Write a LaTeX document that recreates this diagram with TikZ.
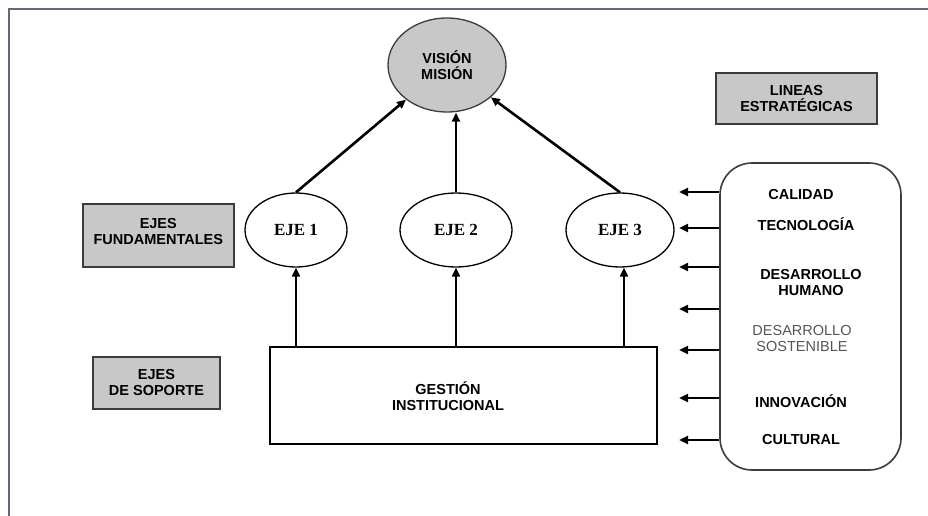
\documentclass[tikz,border=0pt]{standalone}
\usepackage{fontspec}
\setmainfont{Liberation Sans}
\newfontfamily\timesf{Liberation Serif}
\usetikzlibrary{shapes.geometric,arrows.meta}
\definecolor{boxgray}{RGB}{200,200,200}
\definecolor{framecol}{RGB}{95,105,120}
\definecolor{edgegray}{RGB}{60,60,60}
\definecolor{softtext}{RGB}{85,85,85}
\tikzset{
  lbl/.style={font=\fontsize{14.5}{16}\selectfont\bfseries, align=center, text=black},
  graybox/.style={draw=edgegray, line width=1.6pt, fill=boxgray, inner sep=0pt},
  eje/.style={ellipse, draw=black, line width=1.3pt, fill=white, minimum width=102pt, minimum height=74pt, inner sep=0pt, font=\timesf\fontsize{17}{19}\selectfont\bfseries},
  arr/.style={line width=2.6pt, -{Triangle[length=9pt,width=8pt]}},
}
\begin{document}
\begin{tikzpicture}[x=1pt,y=-1pt]
\useasboundingbox (0,0) rectangle (928,516);
\fill[white] (0,0) rectangle (928,516);
\draw[framecol, line width=1.8pt] (9,516) -- (9,9) -- (928,9);

% top ellipse
\node[ellipse, draw=edgegray, line width=1.3pt, fill=boxgray, minimum width=118pt, minimum height=94pt, inner sep=0pt, lbl] (vm) at (447,65) {VISIÓN\\MISIÓN};

% axes
\node[eje] (e1) at (296,230) {EJE 1};
\node[eje, minimum width=112pt] (e2) at (456,230) {EJE 2};
\node[eje, minimum width=108pt] (e3) at (620,230) {EJE 3};

% label boxes
\node[graybox, minimum width=151pt, minimum height=63pt, anchor=north west] (ef) at (82,203) {};
\node[lbl, anchor=north] (eft) at ([yshift=-12pt]ef.north) {EJES\\FUNDAMENTALES};
\node[graybox, minimum width=127pt, minimum height=52pt, lbl] (es) at (156.5,383) {EJES\\DE SOPORTE};
\node[graybox, minimum width=161pt, minimum height=51pt, lbl] (le) at (796.5,98.5) {LINEAS\\ESTRATÉGICAS};

% gestion box
\node[draw=black, line width=2.2pt, minimum width=387pt, minimum height=97pt, inner sep=0pt] (gi) at (463.5,395.5) {};
\node[lbl] (gt) at (448,396) {GESTIÓN\\INSTITUCIONAL};

% rounded box
\node[draw=edgegray, line width=1.6pt, rounded corners=32pt, minimum width=181pt, minimum height=307pt, inner sep=0pt] (rb) at (810.5,316.5) {};
\node[lbl] (t1) at (801,195) {CALIDAD};
\node[lbl] (t2) at (806,224) {TECNOLOGÍA};
\node[lbl] (t3) at (811,283) {DESARROLLO\\HUMANO};
\node[lbl, font=\fontsize{14.5}{16}\selectfont, text=softtext] (t4) at (802,339) {DESARROLLO\\SOSTENIBLE};
\node[lbl] (t5) at (801,401) {INNOVACIÓN};
\node[lbl] (t6) at (801,440) {CULTURAL};

% arrows to vision
\draw[arr] (e1.north) -- (vm);
\draw[arr] (e2.north) -- (e2.north |- vm.south);
\draw[arr] (e3.north) -- (vm);

% arrows from gestion
\draw[arr] (e1.south |- gi.north) -- (e1.south);
\draw[arr] (e2.south |- gi.north) -- (e2.south);
\draw[arr] (624,0 |- gi.north) coordinate (g3) -- (g3 |- e3.south);

% arrows from rounded box
\foreach \yy [count=\i] in {192,228,267,309,350,398,440} {
  \coordinate (a\i) at (679,\yy);
  \draw[arr] (rb.west |- a\i) -- (a\i);
}
\end{tikzpicture}
\end{document}
